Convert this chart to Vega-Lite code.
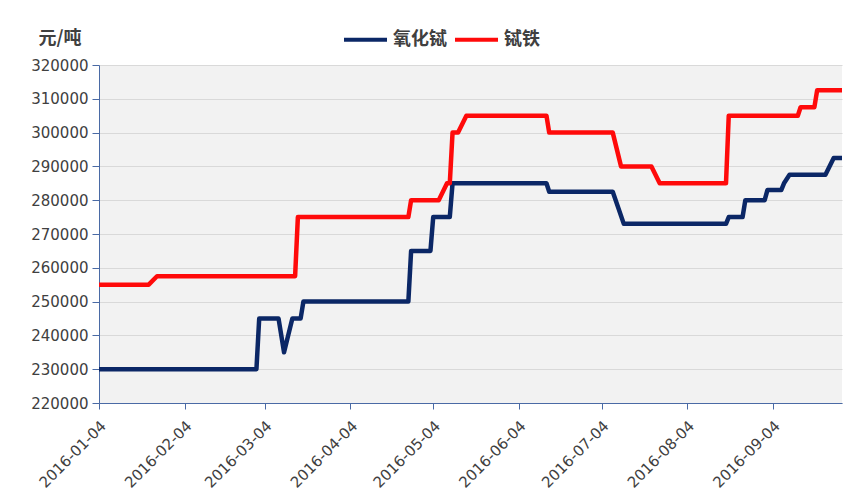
{
  "$schema": "https://vega.github.io/schema/vega-lite/v6.json",
  "width": 743,
  "height": 338,
  "autosize": {"type": "none"},
  "padding": {"left": 99, "top": 65, "right": 25, "bottom": 101},
  "background": "white",
  "config": {
    "view": {"fill": "#f2f2f2", "stroke": null}
  },
  "data": {
    "values": [
      {"d": "2016-01-04", "s": "氧化铽", "v": 230000},
      {"d": "2016-03-01", "s": "氧化铽", "v": 230000},
      {"d": "2016-03-02", "s": "氧化铽", "v": 245000},
      {"d": "2016-03-09", "s": "氧化铽", "v": 245000},
      {"d": "2016-03-11", "s": "氧化铽", "v": 235000},
      {"d": "2016-03-14", "s": "氧化铽", "v": 245000},
      {"d": "2016-03-17", "s": "氧化铽", "v": 245000},
      {"d": "2016-03-18", "s": "氧化铽", "v": 250000},
      {"d": "2016-04-25", "s": "氧化铽", "v": 250000},
      {"d": "2016-04-26", "s": "氧化铽", "v": 265000},
      {"d": "2016-05-03", "s": "氧化铽", "v": 265000},
      {"d": "2016-05-04", "s": "氧化铽", "v": 275000},
      {"d": "2016-05-10", "s": "氧化铽", "v": 275000},
      {"d": "2016-05-11", "s": "氧化铽", "v": 285000},
      {"d": "2016-06-14", "s": "氧化铽", "v": 285000},
      {"d": "2016-06-15", "s": "氧化铽", "v": 282500},
      {"d": "2016-07-08", "s": "氧化铽", "v": 282500},
      {"d": "2016-07-12", "s": "氧化铽", "v": 273000},
      {"d": "2016-08-18", "s": "氧化铽", "v": 273000},
      {"d": "2016-08-19", "s": "氧化铽", "v": 275000},
      {"d": "2016-08-24", "s": "氧化铽", "v": 275000},
      {"d": "2016-08-25", "s": "氧化铽", "v": 280000},
      {"d": "2016-09-01", "s": "氧化铽", "v": 280000},
      {"d": "2016-09-02", "s": "氧化铽", "v": 283000},
      {"d": "2016-09-07", "s": "氧化铽", "v": 283000},
      {"d": "2016-09-08", "s": "氧化铽", "v": 285000},
      {"d": "2016-09-10", "s": "氧化铽", "v": 287500},
      {"d": "2016-09-23", "s": "氧化铽", "v": 287500},
      {"d": "2016-09-26", "s": "氧化铽", "v": 292500},
      {"d": "2016-09-29", "s": "氧化铽", "v": 292500},
      {"d": "2016-01-04", "s": "铽铁", "v": 255000},
      {"d": "2016-01-22", "s": "铽铁", "v": 255000},
      {"d": "2016-01-25", "s": "铽铁", "v": 257500},
      {"d": "2016-03-15", "s": "铽铁", "v": 257500},
      {"d": "2016-03-16", "s": "铽铁", "v": 275000},
      {"d": "2016-04-25", "s": "铽铁", "v": 275000},
      {"d": "2016-04-26", "s": "铽铁", "v": 280000},
      {"d": "2016-05-06", "s": "铽铁", "v": 280000},
      {"d": "2016-05-09", "s": "铽铁", "v": 285000},
      {"d": "2016-05-10", "s": "铽铁", "v": 285000},
      {"d": "2016-05-11", "s": "铽铁", "v": 300000},
      {"d": "2016-05-13", "s": "铽铁", "v": 300000},
      {"d": "2016-05-16", "s": "铽铁", "v": 305000},
      {"d": "2016-06-14", "s": "铽铁", "v": 305000},
      {"d": "2016-06-15", "s": "铽铁", "v": 300000},
      {"d": "2016-07-08", "s": "铽铁", "v": 300000},
      {"d": "2016-07-11", "s": "铽铁", "v": 290000},
      {"d": "2016-07-22", "s": "铽铁", "v": 290000},
      {"d": "2016-07-25", "s": "铽铁", "v": 285000},
      {"d": "2016-08-18", "s": "铽铁", "v": 285000},
      {"d": "2016-08-19", "s": "铽铁", "v": 305000},
      {"d": "2016-09-13", "s": "铽铁", "v": 305000},
      {"d": "2016-09-14", "s": "铽铁", "v": 307500},
      {"d": "2016-09-19", "s": "铽铁", "v": 307500},
      {"d": "2016-09-20", "s": "铽铁", "v": 312500},
      {"d": "2016-09-29", "s": "铽铁", "v": 312500}
    ]
  },
  "mark": {"type": "line", "strokeWidth": 4.5, "strokeJoin": "round"},
  "encoding": {
    "x": {
      "field": "d",
      "type": "temporal",
      "scale": {
        "type": "utc",
        "domain": [
          {"year": 2016, "month": 1, "date": 4, "utc": true},
          {"year": 2016, "month": 9, "date": 29, "utc": true}
        ]
      },
      "axis": {
        "title": null,
        "values": [
          {"year": 2016, "month": 1, "date": 4, "utc": true},
          {"year": 2016, "month": 2, "date": 4, "utc": true},
          {"year": 2016, "month": 3, "date": 4, "utc": true},
          {"year": 2016, "month": 4, "date": 4, "utc": true},
          {"year": 2016, "month": 5, "date": 4, "utc": true},
          {"year": 2016, "month": 6, "date": 4, "utc": true},
          {"year": 2016, "month": 7, "date": 4, "utc": true},
          {"year": 2016, "month": 8, "date": 4, "utc": true},
          {"year": 2016, "month": 9, "date": 4, "utc": true}
        ],
        "format": "%Y-%m-%d",
        "grid": false,
        "labelAngle": -45,
        "labelAlign": "right",
        "labelBaseline": "middle",
        "labelPadding": 14,
        "labelOffset": 4,
        "labelFont": "DejaVu Sans",
        "labelFontSize": 15,
        "labelColor": "#404040",
        "labelOverlap": false,
        "labelFlush": false,
        "domainColor": "#4a6aa5",
        "domainWidth": 1,
        "tickColor": "#4a6aa5",
        "tickSize": 6
      }
    },
    "y": {
      "field": "v",
      "type": "quantitative",
      "scale": {"domain": [220000, 320000], "nice": false, "zero": false},
      "axis": {
        "title": "元/吨",
        "titleAngle": 0,
        "titleX": -61,
        "titleY": -27,
        "titleAlign": "left",
        "titleBaseline": "middle",
        "titleFont": "Noto Sans CJK SC",
        "titleFontSize": 18,
        "titleFontWeight": "bold",
        "titleColor": "#404040",
        "values": [220000, 230000, 240000, 250000, 260000, 270000, 280000, 290000, 300000, 310000, 320000],
        "format": "d",
        "labelFont": "DejaVu Sans",
        "labelFontSize": 15,
        "labelColor": "#404040",
        "labelPadding": 4,
        "domainColor": "#4a6aa5",
        "tickColor": "#4a6aa5",
        "tickSize": 7,
        "gridColor": "#d9d9d9",
        "gridWidth": 1
      }
    },
    "color": {
      "field": "s",
      "type": "nominal",
      "scale": {"domain": ["氧化铽", "铽铁"], "range": ["#0b2766", "#ff0a0a"]},
      "legend": {
        "title": null,
        "orient": "none",
        "direction": "horizontal",
        "legendX": 243,
        "legendY": -49,
        "symbolType": "stroke",
        "symbolSize": 1849,
        "symbolStrokeWidth": 4,
        "labelFont": "Noto Sans CJK SC",
        "labelFontSize": 18,
        "labelFontWeight": "bold",
        "labelColor": "#404040",
        "labelOffset": 4,
        "columnPadding": 0
      }
    }
  }
}
